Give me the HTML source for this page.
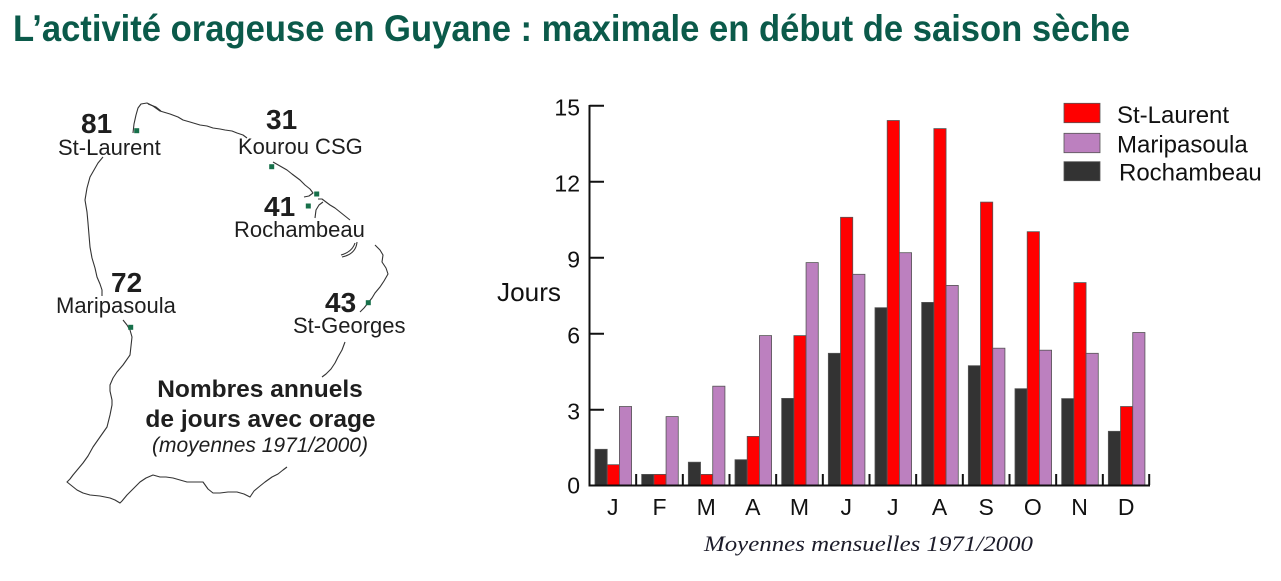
<!DOCTYPE html>
<html><head><meta charset="utf-8"><style>
html,body{margin:0;padding:0;background:#fff;}
svg{display:block;}
</style></head><body>
<svg width="1281" height="581" viewBox="0 0 1281 581" xmlns="http://www.w3.org/2000/svg">
<rect width="1281" height="581" fill="#fff"/>
<!-- Title -->
<text x="13" y="41" font-family="Liberation Sans, sans-serif" font-weight="bold" font-size="37" fill="#0b5a4a" textLength="1117" lengthAdjust="spacingAndGlyphs">L’activité orageuse en Guyane : maximale en début de saison sèche</text>

<!-- Map outline -->
<g fill="none" stroke="#333" stroke-width="1.1" stroke-linejoin="round">
<path d="M133,133 L134,124 136,115 138,108 141,104 147,103 153,106 160,111 L170,114 178,117 183,120 190,122 200,125 207,126 213,128 220,129 225,130 232,131 237,133 243,135 247,138"/>
<path d="M148,104 L156,107 161,111"/>
<path d="M273,162 L280,166 287,170 292,174 300,180 305,185 310,189 313,193 309,196 304,197"/>
<path d="M318,199 L322,199 326,202 330,205 335,208 340,212 345,216 350,220"/>
<path d="M315,218 L316,210 319,205 323,202"/>
<path d="M357,242 Q356,254 342,257"/>
<path d="M355,243 Q352,252 341,255"/>
<path d="M375,245 L380,250 383,255 382,262 386,268 388,274 384,281 380,287 375,293 372,298 368,303 364,308 360,312"/>
<path d="M345,342 L342,350 338,357 335,363 331,369 326,374 322,377"/>
<path d="M287,467 L283,470 278,474 272,477 265,482 260,486 254,491 250,497 244,494 237,492 228,492 220,493 213,493 208,489 203,482 195,482 187,482 180,480 173,478 166,477 160,477 153,475 146,478 140,482 133,489 127,495 122,501 120,503 115,500 110,498 100,496 90,495 83,493 77,490 72,486 67,482 70,479 73,475 78,469 83,463 88,456 93,447 100,437 107,427 110,415 112,405 112,400 110,391 110,385 113,378 117,372 123,365 130,355 131,346 132,337 130,330 127,325 123,320"/>
<path d="M102,296 L102,290 100,284 97,277 95,268 92,258 90,247 89,235 88,223 87,212 85,200 87,188 90,177 94,170 98,163 103,157"/>
</g>
<!-- Station dots -->
<g fill="#17704a">
<rect x="134.2" y="128.2" width="5" height="5"/>
<rect x="269.2" y="164.2" width="5" height="5"/>
<rect x="314.2" y="191.5" width="5" height="5"/>
<rect x="305.8" y="203.5" width="5" height="5"/>
<rect x="365.8" y="300.2" width="5" height="5"/>
<rect x="128.2" y="324.8" width="5" height="5"/>
</g>
<!-- Map labels -->
<g font-family="Liberation Sans, sans-serif" fill="#1e1e1e">
<text x="81" y="133" font-size="28" font-weight="bold">81</text>
<text x="58" y="155" font-size="22">St-Laurent</text>
<text x="266" y="129" font-size="28" font-weight="bold">31</text>
<text x="238" y="154" font-size="22">Kourou CSG</text>
<text x="264" y="216" font-size="28" font-weight="bold">41</text>
<text x="234" y="237" font-size="22">Rochambeau</text>
<text x="111" y="292" font-size="28" font-weight="bold">72</text>
<text x="56" y="313" font-size="22">Maripasoula</text>
<text x="325" y="312" font-size="28" font-weight="bold">43</text>
<text x="293" y="333" font-size="22">St-Georges</text>
<text x="260" y="397" font-size="24.5" font-weight="bold" text-anchor="middle">Nombres annuels</text>
<text x="260.5" y="427" font-size="24.5" font-weight="bold" text-anchor="middle">de jours avec orage</text>
<text x="260" y="452" font-size="21" font-style="italic" text-anchor="middle">(moyennes 1971/2000)</text>
</g>

<!-- Bars -->
<g stroke="#555" stroke-width="0.8">
<g fill="#333333">
<rect x="595" y="449.3" width="12.2" height="35.7"/>
<rect x="641.67" y="474.4" width="12.2" height="10.6"/>
<rect x="688.33" y="462.2" width="12.2" height="22.8"/>
<rect x="735" y="459.7" width="12.2" height="25.3"/>
<rect x="781.67" y="398.4" width="12.2" height="86.6"/>
<rect x="828.33" y="353.3" width="12.2" height="131.7"/>
<rect x="875" y="307.7" width="12.2" height="177.3"/>
<rect x="921.67" y="302.4" width="12.2" height="182.6"/>
<rect x="968.33" y="365.7" width="12.2" height="119.3"/>
<rect x="1015" y="388.7" width="12.2" height="96.3"/>
<rect x="1061.67" y="398.6" width="12.2" height="86.4"/>
<rect x="1108.33" y="431.3" width="12.2" height="53.7"/>
</g>
<g fill="#ff0000">
<rect x="607.2" y="464.7" width="12.2" height="20.3"/>
<rect x="653.87" y="474.4" width="12.2" height="10.6"/>
<rect x="700.53" y="474.4" width="12.2" height="10.6"/>
<rect x="747.2" y="436.4" width="12.2" height="48.6"/>
<rect x="793.87" y="335.6" width="12.2" height="149.4"/>
<rect x="840.53" y="217.3" width="12.2" height="267.7"/>
<rect x="887.2" y="120.5" width="12.2" height="364.5"/>
<rect x="933.87" y="128.6" width="12.2" height="356.4"/>
<rect x="980.53" y="202.1" width="12.2" height="282.9"/>
<rect x="1027.2" y="231.7" width="12.2" height="253.3"/>
<rect x="1073.87" y="282.6" width="12.2" height="202.4"/>
<rect x="1120.53" y="406.5" width="12.2" height="78.5"/>
</g>
<g fill="#bc80bf">
<rect x="619.4" y="406.5" width="12.2" height="78.5"/>
<rect x="666.07" y="416.6" width="12.2" height="68.4"/>
<rect x="712.73" y="386.2" width="12.2" height="98.8"/>
<rect x="759.4" y="335.6" width="12.2" height="149.4"/>
<rect x="806.07" y="262.6" width="12.2" height="222.4"/>
<rect x="852.73" y="274.3" width="12.2" height="210.7"/>
<rect x="899.4" y="252.7" width="12.2" height="232.3"/>
<rect x="946.07" y="285.4" width="12.2" height="199.6"/>
<rect x="992.73" y="348.2" width="12.2" height="136.8"/>
<rect x="1039.4" y="350.2" width="12.2" height="134.8"/>
<rect x="1086.07" y="353.3" width="12.2" height="131.7"/>
<rect x="1132.73" y="332.5" width="12.2" height="152.5"/>
</g>
</g>

<!-- Axes -->
<g stroke="#111" stroke-width="2" fill="none">
<path d="M589.5,105 L589.5,485.5 L1150,485.5"/>
<path d="M589.5,105.7 H604 M589.5,181.7 H604 M589.5,257.7 H604 M589.5,333.7 H604 M589.5,409.7 H604"/>
<path d="M636.17,474 V485 M682.83,474 V485 M729.5,474 V485 M776.17,474 V485 M822.83,474 V485 M869.5,474 V485 M916.17,474 V485 M962.83,474 V485 M1009.5,474 V485 M1056.17,474 V485 M1102.83,474 V485 M1149.2,474 V485"/>
</g>
<!-- Y labels -->
<g font-family="Liberation Sans, sans-serif" font-size="23" fill="#111" text-anchor="end">
<text x="580" y="115.5">15</text>
<text x="580" y="191.5">12</text>
<text x="580" y="267.5">9</text>
<text x="580" y="343.5">6</text>
<text x="580" y="419.5">3</text>
<text x="580" y="493.5">0</text>
</g>
<text x="497" y="301" font-family="Liberation Sans, sans-serif" font-size="26" fill="#111" textLength="64" lengthAdjust="spacingAndGlyphs">Jours</text>
<!-- X labels -->
<g font-family="Liberation Sans, sans-serif" font-size="23" fill="#111" text-anchor="middle">
<text x="612.8" y="515">J</text>
<text x="659.5" y="515">F</text>
<text x="706.2" y="515">M</text>
<text x="752.8" y="515">A</text>
<text x="799.5" y="515">M</text>
<text x="846.2" y="515">J</text>
<text x="892.8" y="515">J</text>
<text x="939.5" y="515">A</text>
<text x="986.2" y="515">S</text>
<text x="1032.8" y="515">O</text>
<text x="1079.5" y="515">N</text>
<text x="1126.2" y="515">D</text>
</g>
<text x="704" y="551" font-family="Liberation Serif, serif" font-style="italic" font-size="22" fill="#1c1c2a" textLength="329" lengthAdjust="spacingAndGlyphs">Moyennes mensuelles 1971/2000</text>

<!-- Legend -->
<g stroke="#555" stroke-width="0.8">
<rect x="1064" y="103.3" width="36" height="19.4" fill="#ff0000"/>
<rect x="1064" y="133.3" width="36" height="19.4" fill="#bc80bf"/>
<rect x="1064" y="161.7" width="36" height="19" fill="#333333"/>
</g>
<g font-family="Liberation Sans, sans-serif" font-size="24" fill="#111">
<text x="1117" y="123">St-Laurent</text>
<text x="1117" y="152.5">Maripasoula</text>
<text x="1119" y="180.5">Rochambeau</text>
</g>
</svg>
</body></html>
